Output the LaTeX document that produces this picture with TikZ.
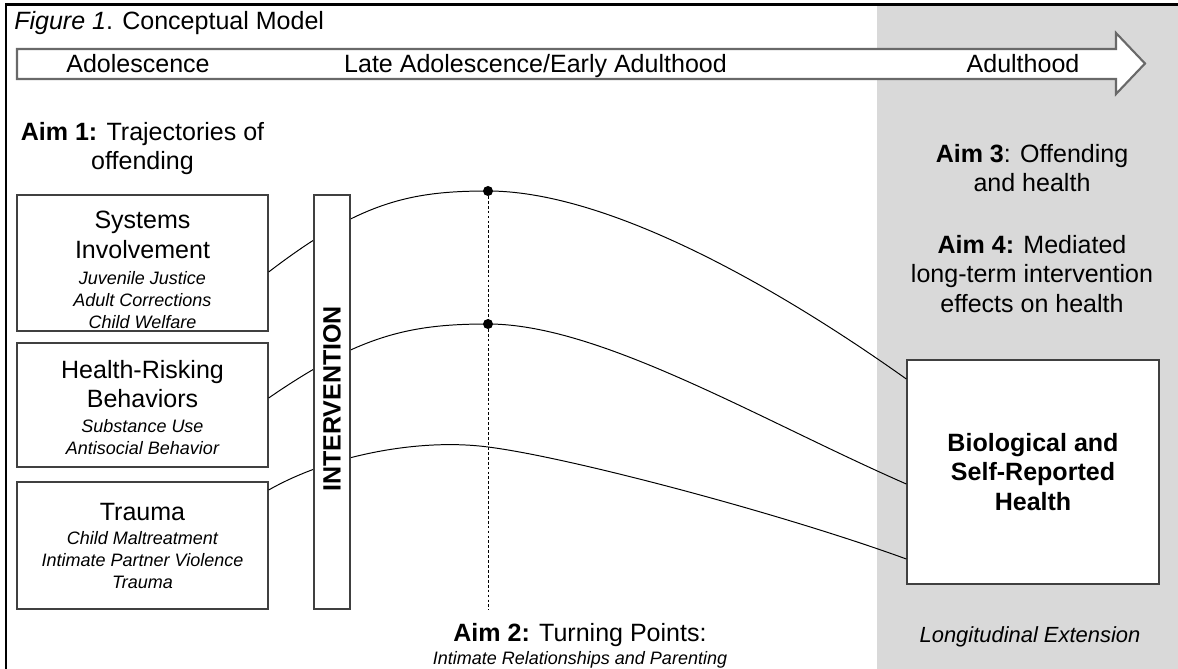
\documentclass[tikz,border=0pt]{standalone}
\usepackage{fontspec}
\setmainfont{Liberation Sans}
\usepackage{xcolor}
\definecolor{bggray}{RGB}{217,217,217}
\definecolor{boxline}{RGB}{64,64,64}
\definecolor{arrowline}{RGB}{105,105,105}
\newcommand{\mainf}{\fontsize{17.8}{21}\selectfont}
\newcommand{\subf}{\fontsize{12.8}{15.6}\selectfont\itshape}
\newcommand{\extf}{\fontsize{15.6}{18.7}\selectfont\itshape}

\begin{document}
\begin{tikzpicture}[x=0.025cm, y=-0.025cm,
    box/.style={draw=boxline, line width=0.9pt, fill=white, inner sep=0pt},
    lbl/.style={font=\mainf, align=center, inner sep=0pt},
    items/.style={font=\subf, align=center, inner sep=0pt},
    traj/.style={line width=0.7pt},
    dot/.style={circle, fill=black, inner sep=0pt, minimum size=0.25cm}]
    \useasboundingbox (0,0) rectangle (1178,669);
    % Nền xám (Longitudinal Extension)
    \fill[bggray] (877,6) rectangle (1178,669);
    % Khung ngoài
    \draw[line width=2pt] (6,669) -- (6,4.5) -- (1178,4.5);
    \node[lbl, anchor=base west] (title) at (14,30) {\textit{Figure 1}. Conceptual Model};
    % Mũi tên thời gian
    \draw[arrowline, line width=1.5pt, fill=white] (17,49) -- (1116,49) -- (1116,33)
        -- (1145,63.5) -- (1116,94) -- (1116,79) -- (17,79) -- cycle;
    \node[lbl, anchor=base] (adol) at (138,73) {Adolescence};
    \node[lbl, anchor=base] (late) at (535.5,73) {Late Adolescence/Early Adulthood};
    \node[lbl, anchor=base] (adult) at (1023,73) {Adulthood};
    % Aim 1
    \node[lbl, anchor=north] (aim1) at (142.5,122) {\textbf{Aim 1:} Trajectories of\\offending};
    % Ba hộp bên trái
    \node[box, minimum width=6.275cm, minimum height=3.4cm] (sys) at (142.5,263) {};
    \node[lbl, anchor=north] (syslbl) at (142.5,211) {Systems\\Involvement};
    \node[items, anchor=north] (sysitems) at (142.5,271.5) {Juvenile Justice\\Adult Corrections\\Child Welfare};
    \node[box, minimum width=6.275cm, minimum height=3.1cm] (hrb) at (142.5,405) {};
    \node[lbl, anchor=north] (hrblbl) at (142.5,360) {Health-Risking\\Behaviors};
    \node[items, anchor=north] (hrbitems) at (142.5,419.5) {Substance Use\\Antisocial Behavior};
    \node[box, minimum width=6.275cm, minimum height=3.175cm] (trauma) at (142.5,545.5) {};
    \node[lbl, anchor=north] (traumalbl) at (142.5,503) {Trauma};
    \node[items, anchor=north] (traumaitems) at (142.5,531.5) {Child Maltreatment\\Intimate Partner Violence\\Trauma};
    % Hộp sức khỏe
    \node[box, minimum width=6.3cm, minimum height=5.6cm, font=\mainf\bfseries, align=center] (health) at (1033,472)
        {Biological and\\Self-Reported\\Health};
    % Điểm chuyển (turning points)
    \node[dot] (tp1) at (488,191) {};
    \node[dot] (tp2) at (488,324) {};
    \coordinate (tp3) at (488,447);
    \coordinate (tpbase) at (488,610);
    \draw[line width=0.7pt, dash pattern=on 2pt off 1.5pt] (tp1.center) -- (tpbase);
    % Đường cong quỹ đạo
    \draw[traj] ([shift={(0,9)}]sys.east) .. controls (360,202) and (410,191) .. (tp1.center)
        .. controls (600,191) and (760,275) .. ([shift={(0,-93)}]health.west);
    \draw[traj] ([shift={(0,-7)}]hrb.east) .. controls (360,335) and (410,324) .. (tp2.center)
        .. controls (600,324) and (760,420) .. ([shift={(0,12)}]health.west);
    \draw[traj] ([shift={(0,-55.5)}]trauma.east) .. controls (330,455) and (420,438) .. (tp3)
        .. controls (568,457) and (780,513) .. ([shift={(0,87)}]health.west);
    % Thanh can thiệp
    \node[box, minimum width=0.9cm, minimum height=10.35cm] (bar) at (332,402) {};
    \node[lbl, rotate=90, font=\mainf\bfseries] (intv) at (332,399) {INTERVENTION};
    % Aim 2
    \node[lbl, anchor=base] (aim2) at (580,641) {\textbf{Aim 2:} Turning Points:};
    \node[items, anchor=base] (aim2sub) at (580,664) {Intimate Relationships and Parenting};
    % Aim 3 và Aim 4
    \node[lbl, anchor=north] (aim3) at (1032,144) {\textbf{Aim 3}: Offending\\and health};
    \node[lbl, anchor=north] (aim4) at (1032,235) {\textbf{Aim 4:} Mediated\\long-term intervention\\effects on health};
    \node[lbl, font=\extf, anchor=base] (ext) at (1030,642) {Longitudinal Extension};
\end{tikzpicture}
\end{document}
